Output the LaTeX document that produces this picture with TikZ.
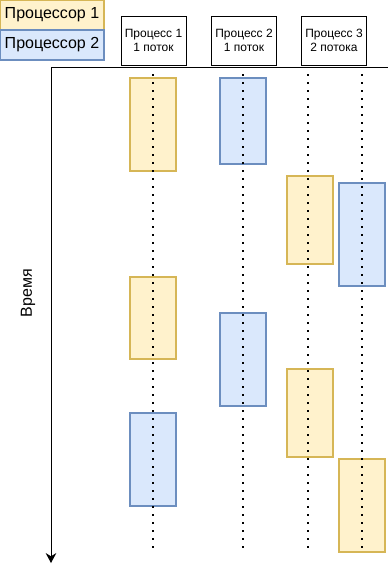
\documentclass[tikz,border=0pt]{standalone}
\usepackage{fontspec}
\setmainfont{Liberation Sans}
\usetikzlibrary{arrows.meta}
\definecolor{cpuonefill}{HTML}{FFF2CC}
\definecolor{cpuoneline}{HTML}{D6B656}
\definecolor{cpotwofill}{HTML}{DAE8FC}
\definecolor{cputwoline}{HTML}{6C8EBF}
\begin{document}
\begin{tikzpicture}[x=0.75pt,y=-0.75pt,
  legendbox/.style={minimum width=78pt,minimum height=22.5pt,inner sep=0pt,
    font=\fontsize{12}{14}\selectfont},
  headbox/.style={draw=black,line width=0.75pt,minimum width=48.75pt,
    minimum height=36.75pt,inner sep=0pt,align=center,
    font=\fontsize{9}{11}\selectfont},
  cpuone/.style={fill=cpuonefill,draw=cpuoneline,line width=0.9pt},
  cputwo/.style={fill=cpotwofill,draw=cputwoline,line width=0.9pt},
  thread/.style={line width=1.5pt,dash pattern=on 1.5pt off 4.5pt}]
  \useasboundingbox (0,0) rectangle (388,564);
  % legend
  \node[legendbox,cpuone] (cpu1) at (52,15) {Процессор 1};
  \node[legendbox,cputwo] (cpu2) at (52,45) {Процессор 2};
  % processes
  \node[headbox] (proc1) at (153.5,40.5) {Процесс 1\\1 поток};
  \node[headbox] (proc2) at (244,40.5) {Процесс 2\\1 поток};
  \node[headbox] (proc3) at (334,40.5) {Процесс 3\\2 потока};
  % time axis
  \coordinate (origin) at (51,67);
  \coordinate (axisend) at (388,67);
  \coordinate (timeend) at (51,563);
  \draw[line width=0.75pt,-{Stealth[length=7.5pt,width=8pt,inset=2.5pt]}]
    (axisend) -- (origin) -- (timeend);
  \node[rotate=90,font=\fontsize{12}{14}\selectfont] (time) at (28,293) {Время};
  % time slices
  \foreach \xa/\ya/\yb in {130/78/171, 130/277/359, 287/176/264, 287/369/457,
      339/459/552}
    \draw[cpuone] (\xa,\ya) rectangle (\xa+46,\yb);
  \foreach \xa/\ya/\yb in {220/78/164, 220/313/406, 130/413/506, 339/183/286}
    \draw[cputwo] (\xa,\ya) rectangle (\xa+46,\yb);
  % threads
  \foreach \x in {153,243,308,362}
    \draw[thread] (\x,74) -- (\x,549);
\end{tikzpicture}
\end{document}
